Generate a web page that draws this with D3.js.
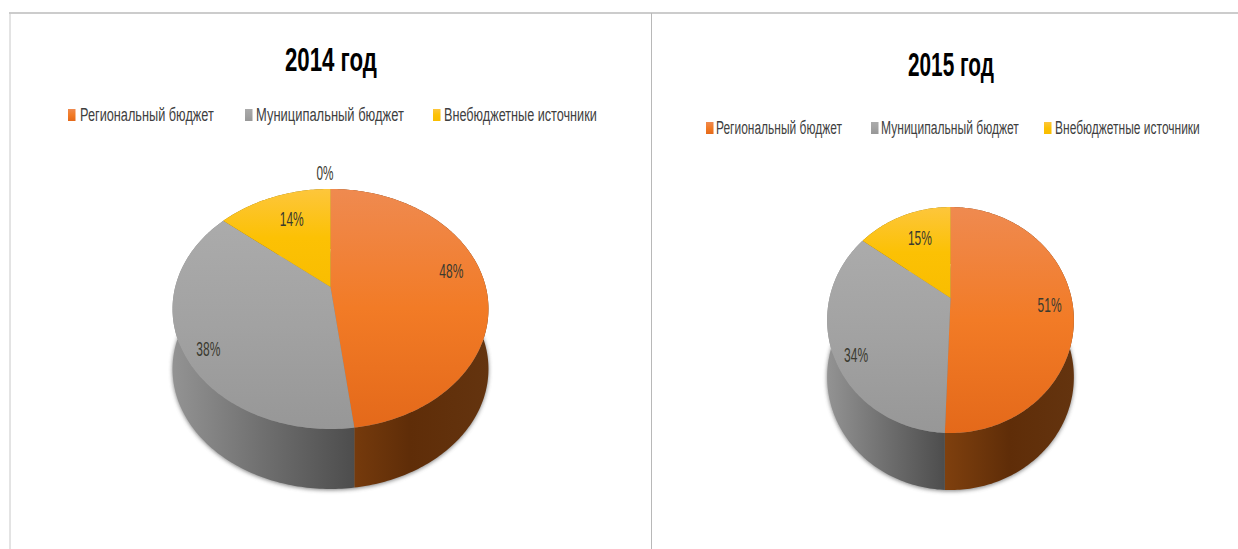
<!DOCTYPE html>
<html><head><meta charset="utf-8">
<script src="https://cdn.jsdelivr.net/npm/d3@7"></script>
<style>html,body{margin:0;padding:0;background:#fff}svg{display:block}</style>
</head><body><svg id="c" width="1238" height="549"></svg>
<script>
const categories = ["Региональный бюджет","Муниципальный бюджет","Внебюджетные источники"," "];
const values2014 = [48,38,14,0];
const values2015 = [50.6,34.4,15];
const labelText2014 = ["48%","38%","14%","0%"];
const labelText2015 = ["51%","34%","15%"];
const titles = ["2014 год","2015 год"];

const topStops = [["#ef8a50","#f27b26","#e4691a"],["#ababab","#a2a2a2","#979797"],["#fdc63c","#fcc104","#f9bd00"]];
const sideStops = [["#7f400e","#5f2d08","#64340f"],["#939393","#6f6f6f","#4d4d4d"],["#8a6a00","#8a6a00","#8a6a00"]];

const layouts = [
 {values:values2014,labels:labelText2014,title:titles[0],titleX:285,titleW:92,titleY:71,titleSize:34,
  cx:330.5,y0:287,A:155.3,B:116,k:0.183,depth:60,
  nudge:[[-2,-10],[-5,14],[8,6],[-5.5,-33]],
  legendY:115,legend:[[68,80,134],[245,256,148],[433,444,153]]},
 {values:values2015,labels:labelText2015,title:titles[1],titleX:908,titleW:86,titleY:76,titleSize:34,
  cx:950.5,y0:298,A:121,B:108.7,k:0.195,depth:57,
  nudge:[[2,5],[-1,16],[8,8]],
  legendY:128,legend:[[706,716,126],[871,881,138],[1044,1055,145]]}
];

const svg = d3.select("#c");
const FONT = "'Liberation Sans',sans-serif";
const defs = svg.append("defs");
defs.append("filter").attr("id","blur").attr("x","-10%").attr("y","-10%").attr("width","120%").attr("height","120%")
  .append("feGaussianBlur").attr("stdDeviation",2);

function addGrad(id,stops,horizontal){
  const g = defs.append("linearGradient").attr("id",id)
    .attr("x1",0).attr("y1",0).attr("x2",horizontal?1:0).attr("y2",horizontal?0:1);
  stops.forEach((c,i)=>g.append("stop").attr("offset",i/(stops.length-1)).attr("stop-color",c));
}
topStops.forEach((s,i)=>addGrad("top"+i,s,false));
sideStops.forEach((s,i)=>addGrad("side"+i,s,true));

// squeeze a text horizontally so it occupies the given width, as in the condensed original
function fitted(parent,str,x,y,width,size,fill,weight){
  const t=parent.append("text").attr("font-family",FONT).attr("font-size",size)
    .attr("font-weight",weight||"normal").attr("fill",fill).text(str);
  const natural=t.node().getComputedTextLength();
  t.attr("transform",`translate(${x},${y}) scale(${width/natural},1)`);
  return t;
}

// frame
const frame = svg.append("g");
frame.append("line").attr("x1",9).attr("x2",1238).attr("y1",13).attr("y2",13).attr("stroke","#9a9a9a").attr("stroke-width",1.2);
frame.append("line").attr("x1",10).attr("x2",10).attr("y1",13).attr("y2",549).attr("stroke","#c8c8c8");
frame.append("line").attr("x1",651.5).attr("x2",651.5).attr("y1",13).attr("y2",549).attr("stroke","#b8b8b8");

const line = d3.line();
layouts.forEach(L=>{
  const g = svg.append("g");
  // perspective projection of the tilted disc
  const project = (a,r)=>{
    const u=Math.sin(a)*r, v=Math.cos(a)*r, w=1+L.k*v;
    return [L.cx+L.A*u/w, L.y0-L.B*v/w];
  };
  const arcs = d3.pie().sort(null).value(d=>d)(L.values);
  const sample = (a0,a1)=>{
    const n=Math.max(2,Math.ceil((a1-a0)*60));
    return d3.range(n+1).map(i=>a0+(a1-a0)*i/n);
  };
  // soft shadow under the side wall
  const whole = sample(0,2*Math.PI).map(a=>{const p=project(a,1);return [p[0],p[1]+L.depth+1];});
  g.append("path").attr("d",line(whole)+"Z").attr("fill","#555").attr("opacity",0.75).attr("filter","url(#blur)");
  // side walls
  arcs.forEach((d,i)=>{
    if(d.value<=0) return;
    const t=sample(d.startAngle,d.endAngle).map(a=>project(a,1));
    const b=t.map(p=>[p[0],p[1]+L.depth]).reverse();
    g.append("path").attr("d",line(t.concat(b))+"Z").attr("fill",`url(#side${i})`);
  });
  // top faces
  arcs.forEach((d,i)=>{
    if(d.value<=0) return;
    const t=sample(d.startAngle,d.endAngle).map(a=>project(a,1));
    g.append("path").attr("d",line([project(0,0)].concat(t))+"Z").attr("fill",`url(#top${i})`);
  });
  // data labels
  arcs.forEach((d,i)=>{
    const p=project((d.startAngle+d.endAngle)/2,0.8);
    const w=L.labels[i].length>2?24:17;
    fitted(g,L.labels[i],p[0]+L.nudge[i][0]-w/2,p[1]+L.nudge[i][1]+7,w,20,"#3a3a2f");
  });
  // title
  fitted(g,L.title,L.titleX,L.titleY,L.titleW,L.titleSize,"#000","bold");
  // legend
  L.legend.forEach((e,i)=>{
    g.append("rect").attr("x",e[0]).attr("y",L.legendY-6).attr("width",7.5).attr("height",12).attr("fill",`url(#top${i})`);
    fitted(g,categories[i],e[1],L.legendY+6,e[2],19,"#3f3f3f");
  });
});
</script></body></html>
